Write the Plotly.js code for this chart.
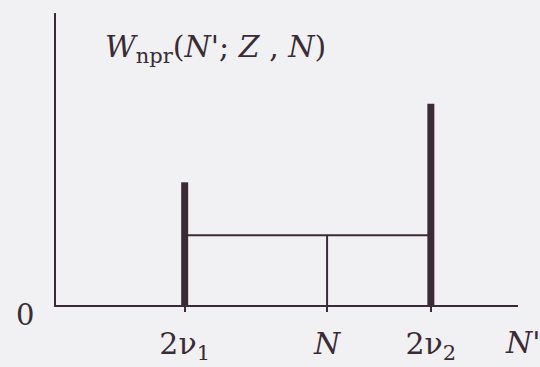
<!DOCTYPE html>
<html>
<head>
<meta charset="utf-8">
<script src="https://cdn.plot.ly/plotly-3.0.1.min.js"></script>
<style>html,body{margin:0;padding:0;background:#f1f0f3}</style>
</head>
<body>
<div id="chart" style="width:540px;height:367px"></div>
<script>
// Distribution W_npr(N'; Z, N): two end spikes at 2ν1 and 2ν2 with a flat plateau between
const tickLabels = ['2ν<sub>1</sub>', '<i>N</i>', '2ν<sub>2</sub>'];
const tickPositions = [4.03, 8.49, 11.74];
const spikeX = [4.03, 11.74];
const spikeHeights = [3.08, 5.05];
const plateauX = [4.03, 11.74];
const plateauLevel = 1.75;
const markerX = 8.49;
const xMax = 14.47;
const yMax = 7.33;

const ink = '#3a2b36';
const serif = 'DejaVu Serif';

const spikes = {
  x: [spikeX[0], spikeX[0], null, spikeX[1], spikeX[1]],
  y: [0, spikeHeights[0], null, 0, spikeHeights[1]],
  mode: 'lines', line: {color: ink, width: 7}, hoverinfo: 'skip'
};
const plateau = {
  x: plateauX, y: [plateauLevel, plateauLevel],
  mode: 'lines', line: {color: ink, width: 2}, hoverinfo: 'skip'
};
const marker = {
  x: [markerX, markerX], y: [0, plateauLevel],
  mode: 'lines', line: {color: ink, width: 2}, hoverinfo: 'skip'
};

const layout = {
  width: 540, height: 367,
  margin: {l: 56, r: 22, t: 13, b: 62},
  paper_bgcolor: '#f1f0f3', plot_bgcolor: '#f1f0f3',
  showlegend: false,
  font: {family: serif, color: ink},
  xaxis: {
    range: [0, xMax], showline: true, linewidth: 2, linecolor: ink,
    showgrid: false, zeroline: false,
    ticks: 'outside', ticklen: 5, tickwidth: 2, tickcolor: ink,
    tickvals: tickPositions, ticktext: tickLabels,
    tickfont: {family: serif, size: 30, color: ink},
    ticklabelstandoff: 6
  },
  yaxis: {
    range: [0, yMax], showline: true, linewidth: 2, linecolor: ink,
    showgrid: false, zeroline: false, ticks: '', showticklabels: false
  },
  annotations: [
    {text: '<i>W</i><sub>npr</sub>(<i>N\'</i>; <i>Z</i> , <i>N</i>)',
     xref: 'paper', yref: 'paper', x: 0.1015, y: 0.878,
     xanchor: 'left', yanchor: 'middle', showarrow: false,
     font: {family: serif, size: 30, color: ink}},
    {text: '0', xref: 'paper', yref: 'y', x: 0, y: 0,
     xanchor: 'center', yanchor: 'middle',
     xshift: -31, yshift: -10, showarrow: false,
     font: {family: serif, size: 29, color: ink}},
    {text: '<i>N\'</i>', xref: 'x', yref: 'y', x: xMax, y: 0,
     xanchor: 'center', yanchor: 'middle',
     xshift: 5, yshift: -37, showarrow: false,
     font: {family: serif, size: 30, color: ink}}
  ]
};

Plotly.newPlot('chart', [spikes, plateau, marker], layout, {displayModeBar: false, staticPlot: true});
</script>
</body>
</html>
